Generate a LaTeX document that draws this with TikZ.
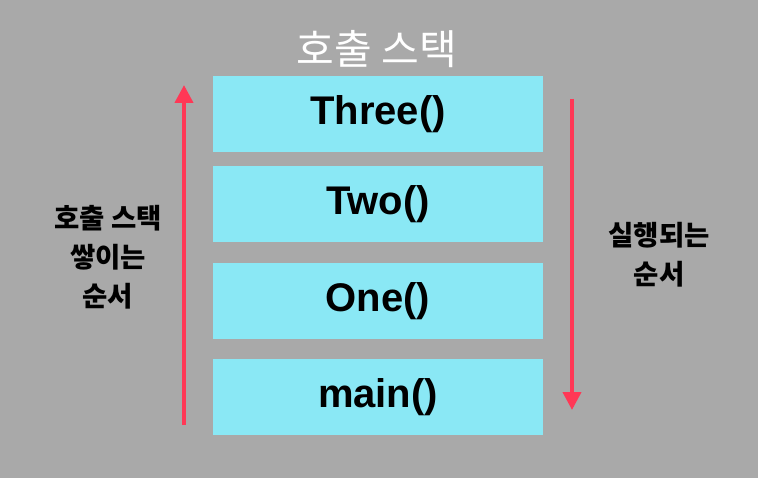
\documentclass[tikz,border=0pt]{standalone}
\usepackage{fontspec}
\setmainfont{Liberation Sans}
\newfontfamily\kr{Noto Sans CJK KR}
\usepackage{xcolor}
\usetikzlibrary{arrows.meta,positioning}
\definecolor{stackbg}{RGB}{169,169,169}
\definecolor{framecyan}{RGB}{138,232,245}
\definecolor{flowred}{RGB}{255,56,86}

\begin{document}
\begin{tikzpicture}[x=1pt,y=-1pt,
        frame/.style={rectangle,fill=framecyan,minimum width=330pt,minimum height=76pt,
          inner sep=0pt,font=\bfseries\fontsize{40}{48}\selectfont},
        krlabel/.style={align=center,font=\kr\bfseries\fontsize{27.5}{39}\selectfont},
        flow/.style={draw=flowred,line width=4pt,-{Triangle[length=18pt,width=18pt]}}]
        \fill[stackbg] (0,0) rectangle (758,478);
        \useasboundingbox (0,0) rectangle (758,478);
        \node[text=white,font=\kr\fontsize{41}{46}\selectfont] (title) at (377,49) {호출 스택};
        \node[frame] (three) at (378,114) {\raisebox{-2pt}{Three()}};
        \node[frame,below=14pt of three] (two) {\raisebox{-2pt}{Two()}};
        \node[frame,below=20pt of two] (one) {\raisebox{-2pt}{One()}};
        \node[frame,below=20pt of one] (main) {\raisebox{-2pt}{main()}};
        \node[krlabel] (push) at (108,257) {호출 스택\\쌓이는\\순서};
        \node[krlabel] (run) at (659,255) {실행되는\\순서};
        \coordinate (pushlow) at (184,425);
        \coordinate (pushhigh) at (184,85);
        \coordinate (runhigh) at (572,99);
        \coordinate (runlow) at (572,410);
        \draw[flow] (pushlow) -- (pushhigh);
        \draw[flow] (runhigh) -- (runlow);
      \end{tikzpicture}
\end{document}
